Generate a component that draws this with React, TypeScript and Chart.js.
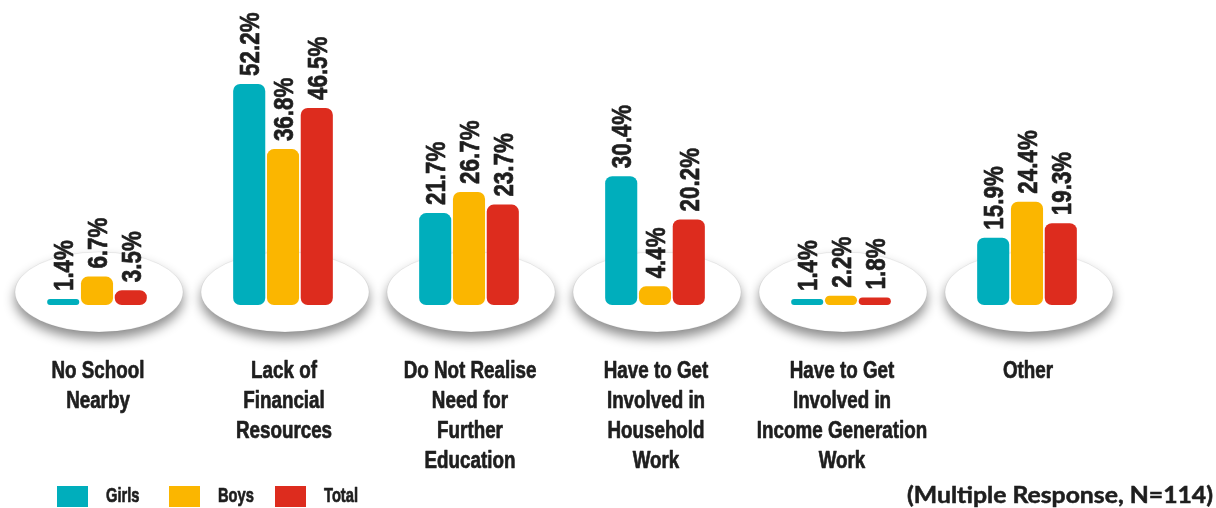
import React, { useEffect, useRef } from "react";
import { Chart, registerables } from "chart.js";

Chart.register(...registerables);

const categories: string[][] = [
  ["No School", "Nearby"],
  ["Lack of", "Financial", "Resources"],
  ["Do Not Realise", "Need for", "Further", "Education"],
  ["Have to Get", "Involved in", "Household", "Work"],
  ["Have to Get", "Involved in", "Income Generation", "Work"],
  ["Other"],
];
const girls = [1.4, 52.2, 21.7, 30.4, 1.4, 15.9];
const boys = [6.7, 36.8, 26.7, 4.4, 2.2, 24.4];
const total = [3.5, 46.5, 23.7, 20.2, 1.8, 19.3];
const seriesNames = ["Girls", "Boys", "Total"];
const seriesColors = ["#00AEBC", "#FBB600", "#DD2C1E"];
const footnote = "(Multiple Response, N=114)";

const TEXT = "#1e1e1e";
const SANS = "'Liberation Sans', Arial, sans-serif";

function heavyText(ctx: any, text: string, x: number, y: number) {
  ctx.lineWidth = 0.7;
  ctx.strokeStyle = TEXT;
  ctx.lineJoin = "round";
  ctx.strokeText(text, x, y);
  ctx.fillText(text, x, y);
}

function narrowText(ctx: any, text: string, x: number, y: number, size: number, squeeze: number, align: "left" | "center" | "right") {
  ctx.save();
  ctx.font = `bold ${size}px ${SANS}`;
  ctx.fillStyle = TEXT;
  ctx.textBaseline = "middle";
  ctx.textAlign = align;
  ctx.translate(x, y);
  ctx.scale(squeeze, 1);
  heavyText(ctx, text, 0, 0);
  ctx.restore();
}

const platePlugin = {
  id: "plates",
  beforeDatasetsDraw(chart: any) {
    const { ctx, scales } = chart;
    const x = scales.x;
    const y = scales.y;
    const base = y.getPixelForValue(0);
    for (let i = 0; i < categories.length; i++) {
      const cx = x.getPixelForValue(i) + 2;
      const cy = base - 13;
      ctx.save();
      ctx.shadowColor = "rgba(0,0,0,0.45)";
      ctx.shadowBlur = 12;
      ctx.shadowOffsetY = 7;
      ctx.beginPath();
      ctx.ellipse(cx, cy, 84, 40, 0, 0, Math.PI * 2);
      ctx.fillStyle = "#ffffff";
      ctx.fill();
      ctx.restore();
      ctx.save();
      ctx.beginPath();
      ctx.ellipse(cx, cy, 84, 40, 0, 0, Math.PI * 2);
      ctx.strokeStyle = "rgba(0,0,0,0.07)";
      ctx.lineWidth = 1;
      ctx.stroke();
      ctx.restore();
    }
  },
};

const valuePlugin = {
  id: "values",
  afterDatasetsDraw(chart: any) {
    const { ctx } = chart;
    chart.data.datasets.forEach((ds: any, di: number) => {
      const meta = chart.getDatasetMeta(di);
      meta.data.forEach((bar: any, i: number) => {
        const v = ds.data[i];
        ctx.save();
        ctx.translate(bar.x + 1, bar.y - 8);
        ctx.rotate(-Math.PI / 2);
        ctx.scale(0.8, 1);
        ctx.font = `bold 28px ${SANS}`;
        ctx.fillStyle = TEXT;
        ctx.textAlign = "left";
        ctx.textBaseline = "middle";
        heavyText(ctx, v.toFixed(1) + "%", 0, 1);
        ctx.restore();
      });
    });
  },
};

const labelsPlugin = {
  id: "catLabels",
  afterDraw(chart: any) {
    const { ctx, scales } = chart;
    const x = scales.x;
    categories.forEach((lines, i) => {
      const cx = x.getPixelForValue(i) + 1;
      lines.forEach((line, li) => {
        narrowText(ctx, line, cx, 372 + li * 30, 23.5, 0.8, "center");
      });
    });
  },
};

const legendPlugin = {
  id: "customLegend",
  afterDraw(chart: any) {
    const { ctx } = chart;
    const boxX = [57, 169, 275];
    chart.data.datasets.forEach((ds: any, di: number) => {
      ctx.save();
      ctx.fillStyle = ds.backgroundColor;
      ctx.fillRect(boxX[di], 486, 31, 21);
      ctx.restore();
      narrowText(ctx, ds.label, boxX[di] + 49, 496, 21, 0.7, "left");
    });
    ctx.save();
    ctx.font = "bold 22px Lato, 'Open Sans', sans-serif";
    const w = ctx.measureText(footnote).width;
    ctx.fillStyle = TEXT;
    ctx.textAlign = "left";
    ctx.textBaseline = "middle";
    ctx.translate(907, 496);
    ctx.scale(306 / w, 1);
    ctx.lineWidth = 0.5;
    ctx.strokeStyle = TEXT;
    ctx.strokeText(footnote, 0, 0);
    ctx.fillText(footnote, 0, 0);
    ctx.restore();
  },
};

export default function App() {
  const ref = useRef<HTMLCanvasElement | null>(null);
  useEffect(() => {
    if (!ref.current) return;
    const values = [girls, boys, total];
    const chart = new Chart(ref.current, {
      type: "bar",
      data: {
        labels: categories.map((c) => c.join(" ")),
        datasets: values.map((d, i) => ({
          label: seriesNames[i],
          data: d,
          backgroundColor: seriesColors[i],
          borderRadius: 7,
          borderSkipped: false,
          categoryPercentage: 0.545,
          barPercentage: 0.95,
        })),
      },
      options: {
        animation: false,
        responsive: false,
        maintainAspectRatio: false,
        layout: { padding: { left: 4, right: 96, top: 0, bottom: 203 } },
        plugins: {
          legend: { display: false },
          tooltip: { enabled: false },
        },
        scales: {
          x: { display: false },
          y: { display: false, min: 0, max: 72 },
        },
      },
      plugins: [platePlugin, valuePlugin, labelsPlugin, legendPlugin],
    });
    return () => chart.destroy();
  }, []);
  return (
    <div style={{ position: "absolute", left: 0, top: 0, width: 1216, height: 508, background: "#fff" }}>
      <canvas ref={ref} width={1216} height={508} style={{ width: 1216, height: 508 }} />
    </div>
  );
}
